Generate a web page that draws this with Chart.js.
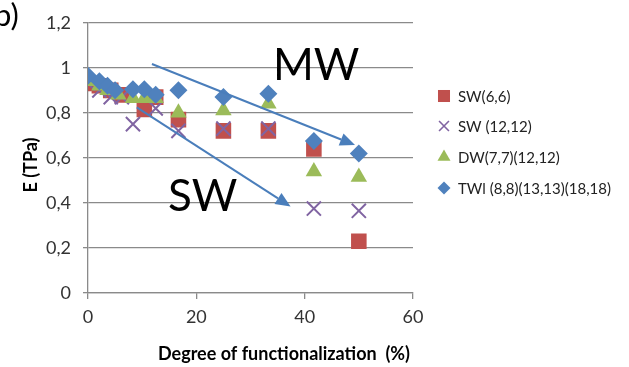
<!DOCTYPE html>
<html>
<head>
<meta charset="utf-8">
<script src="https://cdn.jsdelivr.net/npm/chart.js@4"></script>
<style>
  html, body { margin: 0; padding: 0; background: #fff; }
  #wrap { width: 629px; height: 367px; }
</style>
</head>
<body>
<div id="wrap"><canvas id="c" width="629" height="367"></canvas></div>
<script>
// Young's modulus vs degree of functionalization
const seriesNames = ['SW(6,6)', 'SW (12,12)', 'DW(7,7)(12,12)', 'TWl (8,8)(13,13)(18,18)'];

const sw66X = [0, 2.1, 4.2, 6.25, 10.4, 12.5, 16.7, 25, 33.3, 41.7, 50];
const sw66Y = [0.93, 0.92, 0.90, 0.88, 0.815, 0.87, 0.77, 0.72, 0.72, 0.64, 0.23];

const sw1212X = [0, 2.1, 4.2, 6.25, 8.3, 12.5, 16.7, 25, 33.3, 41.7, 50];
const sw1212Y = [0.93, 0.90, 0.87, 0.87, 0.75, 0.82, 0.72, 0.73, 0.73, 0.375, 0.365];

const dwX = [0, 2.1, 3.6, 5.6, 8.3, 10.4, 12.5, 16.7, 25, 33.3, 41.7, 50];
const dwY = [0.94, 0.92, 0.90, 0.88, 0.865, 0.865, 0.865, 0.80, 0.81, 0.84, 0.54, 0.515];

const twX = [0, 2.1, 3.6, 5, 8.3, 10.4, 12.5, 16.7, 25, 33.3, 41.7, 50];
const twY = [0.965, 0.94, 0.92, 0.90, 0.905, 0.905, 0.88, 0.90, 0.87, 0.885, 0.675, 0.62];

const xTickLabels = ['0', '20', '40', '60'];
const yTickLabels = ['0', '0,2', '0,4', '0,6', '0,8', '1', '1,2'];

// trend arrows in data units: [x0, y0, x1, y1]
const mwArrow = [11.8, 1.017, 49.3, 0.657];
const swArrow = [9.0, 0.824, 37.4, 0.384];

const colors = ['#C0504D', '#8064A2', '#9BBB59', '#4F81BD'];
const styles = ['rect', 'crossRot', 'triangle', 'rectRot'];
const radii = [11, 10, 9.5, 9];
const legendRadii = [8.5, 7, 7.5, 6.5];

const FONT = 'Lato, "Open Sans", sans-serif';

function pts(xs, ys) { return xs.map((x, i) => ({ x: x, y: ys[i] })); }

const allData = [pts(sw66X, sw66Y), pts(sw1212X, sw1212Y), pts(dwX, dwY), pts(twX, twY)];

const datasets = allData.map((d, i) => ({
  label: seriesNames[i],
  data: d,
  pointStyle: styles[i],
  pointRadius: radii[i],
  pointHoverRadius: radii[i],
  backgroundColor: colors[i],
  borderColor: colors[i],
  borderWidth: i === 1 ? 2 : 0,
  showLine: false,
  order: 4 - i
}));

function drawArrow(ctx, xs, ys, a) {
  const x0 = xs.getPixelForValue(a[0]), y0 = ys.getPixelForValue(a[1]);
  const x1 = xs.getPixelForValue(a[2]), y1 = ys.getPixelForValue(a[3]);
  const ang = Math.atan2(y1 - y0, x1 - x0);
  const L = 15, W = 6.5;
  const bx = x1 - L * Math.cos(ang), by = y1 - L * Math.sin(ang);
  ctx.strokeStyle = '#4A7EBB';
  ctx.fillStyle = '#4A7EBB';
  ctx.lineWidth = 2;
  ctx.beginPath();
  ctx.moveTo(x0, y0);
  ctx.lineTo(bx, by);
  ctx.stroke();
  ctx.beginPath();
  ctx.moveTo(x1, y1);
  ctx.lineTo(bx + W * Math.sin(ang), by - W * Math.cos(ang));
  ctx.lineTo(bx - W * Math.sin(ang), by + W * Math.cos(ang));
  ctx.closePath();
  ctx.fill();
}

function drawShape(ctx, style, r, x, y) {
  ctx.beginPath();
  if (style === 'rect') {
    const s = r * Math.SQRT1_2;
    ctx.fillRect(x - s, y - s, 2 * s, 2 * s);
  } else if (style === 'crossRot') {
    const s = r * Math.SQRT1_2;
    ctx.moveTo(x - s, y - s); ctx.lineTo(x + s, y + s);
    ctx.moveTo(x + s, y - s); ctx.lineTo(x - s, y + s);
    ctx.stroke();
  } else if (style === 'triangle') {
    ctx.moveTo(x, y - r);
    ctx.lineTo(x + r * Math.sin(Math.PI / 3), y + r / 2);
    ctx.lineTo(x - r * Math.sin(Math.PI / 3), y + r / 2);
    ctx.closePath();
    ctx.fill();
  } else {
    ctx.moveTo(x, y - r); ctx.lineTo(x + r, y); ctx.lineTo(x, y + r); ctx.lineTo(x - r, y);
    ctx.closePath();
    ctx.fill();
  }
}

const overlay = {
  id: 'overlay',
  afterDatasetsDraw(chart) {
    const ctx = chart.ctx;
    const xs = chart.scales.x, ys = chart.scales.y;
    ctx.save();
    drawArrow(ctx, xs, ys, mwArrow);
    drawArrow(ctx, xs, ys, swArrow);

    ctx.fillStyle = '#000';
    ctx.textBaseline = 'alphabetic';
    ctx.textAlign = 'left';
    ctx.font = '44px ' + FONT;
    ctx.fillText('MW', 273, 80);
    ctx.fillText('SW', 168, 211);

    ctx.font = '31px ' + FONT;
    ctx.fillText('b)', -6, 26);

    // axis titles
    ctx.font = 'bold 18px ' + FONT;
    ctx.textAlign = 'center';
    ctx.textBaseline = 'middle';
    ctx.fillText('Degree of functionalization  (%)', 284, 354);
    ctx.save();
    ctx.translate(31, 165);
    ctx.rotate(-Math.PI / 2);
    ctx.fillText('E (TPa)', 0, 0);
    ctx.restore();

    // legend
    const rowY = [96, 126, 157, 188];
    ctx.font = '15px ' + FONT;
    ctx.textAlign = 'left';
    ctx.lineWidth = 1.6;
    for (let i = 0; i < seriesNames.length; i++) {
      ctx.fillStyle = colors[i];
      ctx.strokeStyle = colors[i];
      drawShape(ctx, styles[i], legendRadii[i], 444, rowY[i]);
      ctx.fillStyle = '#222';
      ctx.fillText(seriesNames[i], 458, rowY[i] + 1);
    }
    ctx.restore();
  }
};

new Chart(document.getElementById('c'), {
  type: 'scatter',
  data: { datasets: datasets },
  options: {
    responsive: false,
    animation: false,
    devicePixelRatio: 1,
    layout: { padding: { left: 0, top: 12, right: 216, bottom: 0 } },
    plugins: {
      legend: { display: false },
      tooltip: { enabled: false }
    },
    scales: {
      x: {
        type: 'linear',
        min: 0, max: 60,
        afterFit(s) { s.height = 74; },
        afterBuildTicks(s) { s.ticks = xTickLabels.map(t => ({ value: Number(t) })); },
        ticks: {
          callback: (v, i) => xTickLabels[i],
          font: { family: FONT, size: 18 },
          color: '#333',
          padding: 7,
          maxRotation: 0
        },
        grid: {
          display: true,
          drawOnChartArea: false,
          drawTicks: true,
          tickLength: 6,
          color: '#8a8a8a',
          lineWidth: 1.3
        },
        border: { display: true, color: '#8a8a8a', width: 1.3 }
      },
      y: {
        type: 'linear',
        min: 0, max: 1.2,
        afterFit(s) { s.width = 88; },
        afterBuildTicks(s) { s.ticks = yTickLabels.map((t, i) => ({ value: i * 0.2 })); },
        ticks: {
          callback: (v, i) => yTickLabels[i],
          font: { family: FONT, size: 18 },
          color: '#333',
          padding: 12
        },
        grid: {
          color: '#8a8a8a',
          lineWidth: 1.3,
          tickLength: 5
        },
        border: { display: true, color: '#8a8a8a', width: 1.3 }
      }
    }
  },
  plugins: [overlay]
});
</script>
</body>
</html>
